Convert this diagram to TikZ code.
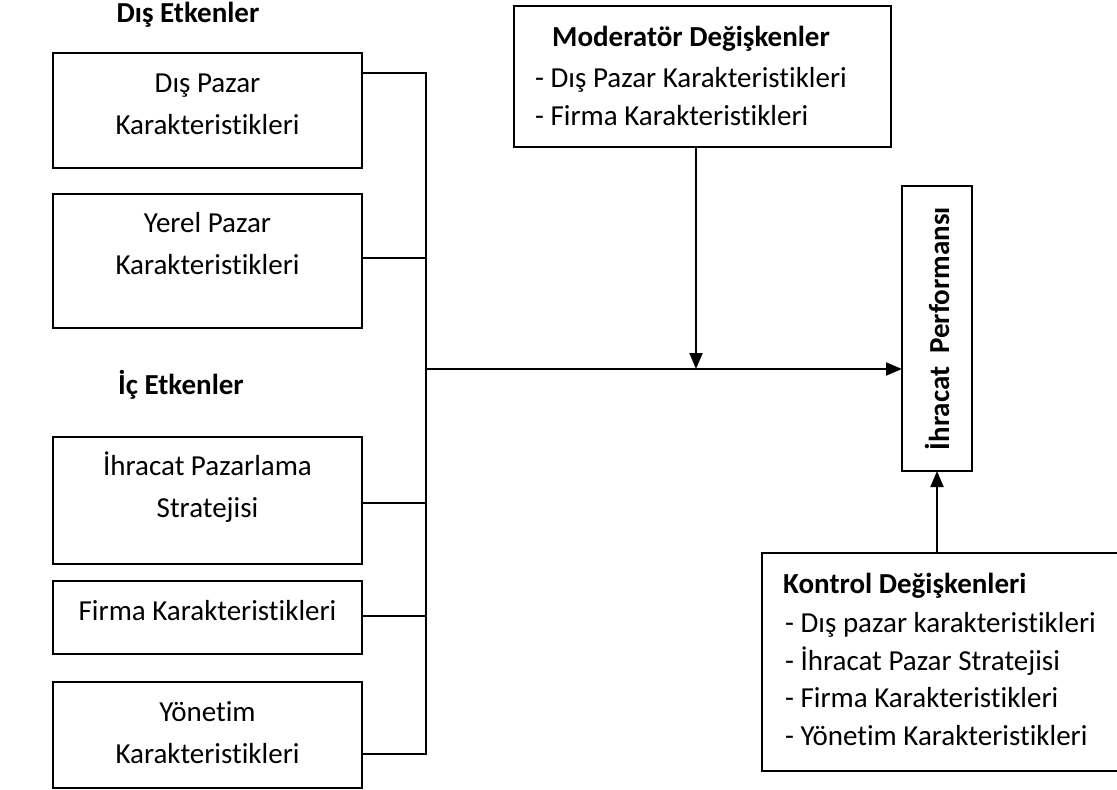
\documentclass[tikz,border=0pt]{standalone}
\usepackage{fontspec}
\setmainfont{Carlito}[Ligatures={NoCommon}]
\usetikzlibrary{arrows.meta,calc}
\tikzset{
  boxn/.style={draw, line width=2pt, rectangle, inner sep=0pt, outer sep=0pt, anchor=north west},
  boxtext/.style={anchor=north, inner sep=0pt, align=center, font=\fontsize{29}{42}\selectfont},
  linetext/.style={anchor=base west, inner sep=0pt, font=\fontsize{29}{35}\selectfont},
  headtext/.style={anchor=base, inner sep=0pt, font=\fontsize{29}{35}\selectfont\bfseries},
  conn/.style={line width=2pt},
  arr/.style={line width=2pt, -{Triangle[length=16pt,width=13pt]}}
}
\begin{document}
\begin{tikzpicture}[x=1pt,y=-1pt]
\useasboundingbox (0,0) rectangle (1117,790);
\clip (0,0) rectangle (1117,790);
% headings
\node[headtext] (h1) at (188,22) {Dış Etkenler};
\node[headtext] (h2) at (181,394) {İç Etkenler};
% left boxes
\node[boxn, minimum width=309pt, minimum height=115pt] (b1) at (53,53) {};
\node[boxn, minimum width=309pt, minimum height=134pt] (b2) at (53,194) {};
\node[boxn, minimum width=309pt, minimum height=127pt] (b3) at (53,437) {};
\node[boxn, minimum width=309pt, minimum height=73pt] (b4) at (53,581) {};
\node[boxn, minimum width=309pt, minimum height=106pt] (b5) at (53,682) {};
\node[boxtext] (t1) at (207.5,62) {\rule{0pt}{30pt}Dış Pazar\\Karakteristikleri};
\node[boxtext] (t2) at (207.5,202) {\rule{0pt}{30pt}Yerel Pazar\\Karakteristikleri};
\node[boxtext] (t3) at (207.5,445) {\rule{0pt}{30pt}İhracat Pazarlama\\Stratejisi};
\node[boxtext] (t4) at (207.5,590) {\rule{0pt}{30pt}Firma Karakteristikleri};
\node[boxtext] (t5) at (207.5,691) {\rule{0pt}{30pt}Yönetim\\Karakteristikleri};
% moderator box
\node[boxn, minimum width=377pt, minimum height=141pt] (mod) at (514,6) {};
\node[headtext, anchor=base west] (m0) at (552,46) {Moderatör Değişkenler};
\node[linetext] (m1) at (535,87) {- Dış Pazar Karakteristikleri};
\node[linetext] (m2) at (535,125) {- Firma Karakteristikleri};
% performance box
\node[draw, line width=2pt, rectangle, rotate=90, minimum width=285pt, minimum height=70pt, inner sep=0pt, outer sep=0pt,
      font=\fontsize{29}{35}\selectfont\bfseries] (perf) at (937,328.5) {İhracat\ \ Performansı};
% control box
\node[boxn, minimum width=380pt, minimum height=218pt] (kon) at (762,553) {};
\node[headtext, anchor=base west] (k0) at (783,593) {Kontrol Değişkenleri};
\node[linetext] (k1) at (785,632) {- Dış pazar karakteristikleri};
\node[linetext] (k2) at (785,670) {- İhracat Pazar Stratejisi};
\node[linetext] (k3) at (785,707) {- Firma Karakteristikleri};
\node[linetext] (k4) at (785,745) {- Yönetim Karakteristikleri};
% bus
\coordinate (c1) at (426,73);
\coordinate (c2) at (426,258);
\coordinate (c3) at (426,503);
\coordinate (c4) at (426,616);
\coordinate (c5) at (426,754);
\coordinate (j) at (426,369);
\coordinate (mx) at (696,369);
\draw[conn] (c1 -| b1.east) -- (c1) -- (c5) -- (c5 -| b5.east);
\draw[conn] (c2 -| b2.east) -- (c2);
\draw[conn] (c3 -| b3.east) -- (c3);
\draw[conn] (c4 -| b4.east) -- (c4);
\draw[arr] (j) -- (j -| perf.north);
\draw[arr] (mx |- mod.south) -- (mx);
\draw[arr] (perf.west |- kon.north) -- (perf.west);
\end{tikzpicture}
\end{document}
